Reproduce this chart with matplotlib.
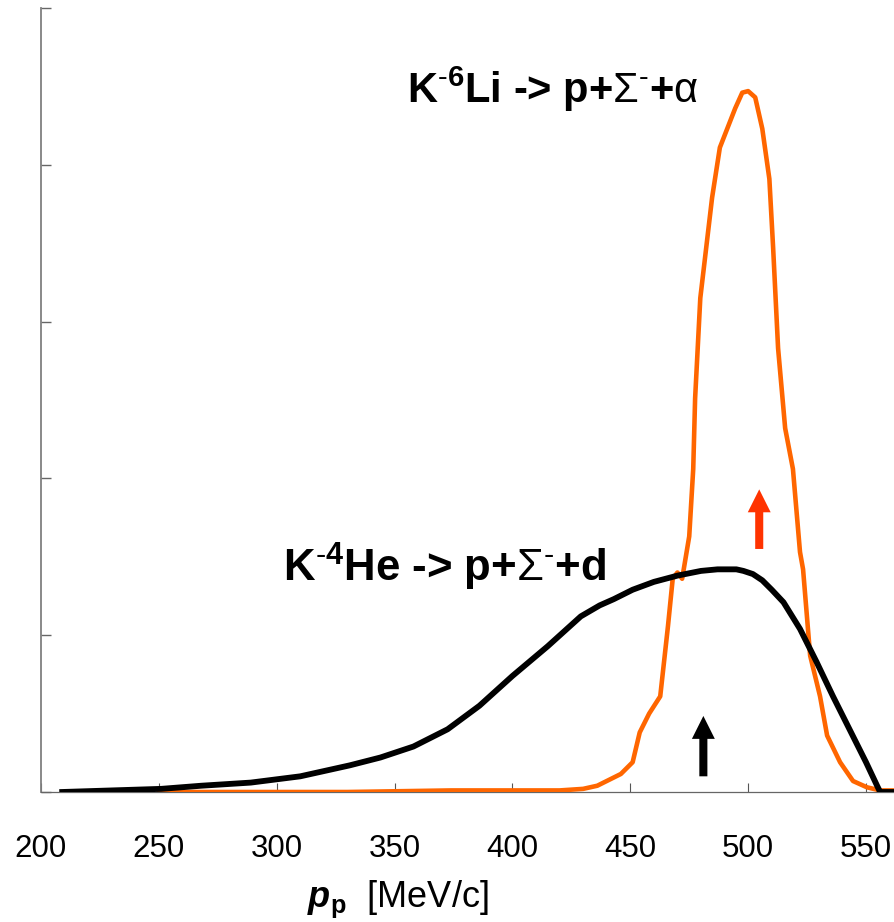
import matplotlib
matplotlib.use('Agg')
import matplotlib.pyplot as plt

plt.rcParams['font.family'] = ['Liberation Sans', 'DejaVu Sans']
plt.rcParams['mathtext.fontset'] = 'custom'
plt.rcParams['mathtext.rm'] = 'Liberation Sans'
plt.rcParams['mathtext.it'] = 'Liberation Sans:italic'
plt.rcParams['mathtext.bf'] = 'Liberation Sans:bold'
plt.rcParams['mathtext.bfit'] = 'Liberation Sans:italic:bold'

# K- 4He -> p + Sigma- + d  (black)
he_p = [209, 230, 251, 268, 289, 310, 331, 344, 358, 372.5, 386, 400, 415, 429, 437,
        443, 451, 460, 470, 480, 487, 495, 498, 502, 506, 510, 515, 522, 529, 536,
        543, 550, 554.7, 556, 562]
he_y = [0.0, 0.01, 0.02, 0.04, 0.06, 0.10, 0.17, 0.22, 0.29, 0.40, 0.55, 0.74, 0.93,
        1.12, 1.19, 1.23, 1.29, 1.34, 1.38, 1.41, 1.42, 1.42, 1.41, 1.39, 1.35, 1.29,
        1.21, 1.04, 0.83, 0.61, 0.40, 0.19, 0.04, 0.0, 0.0]

# K- 6Li -> p + Sigma- + alpha  (orange)
li_p = [250, 330, 374, 420, 430, 436, 446, 451, 454, 458, 462.7, 466, 468, 470, 472,
        475, 476.7, 477.5, 479.7, 484.7, 488, 494.5, 497.5, 500, 503, 506, 509, 510.6,
        512.7, 515.7, 519, 522, 523.3, 526.3, 530.5, 533.5, 539, 544.5, 550.4, 556, 562]
li_y = [0.0, 0.0, 0.01, 0.01, 0.02, 0.04, 0.115, 0.19, 0.38, 0.50, 0.61, 1.06, 1.36,
        1.40, 1.36, 1.63, 2.06, 2.51, 3.15, 3.79, 4.11, 4.36, 4.46, 4.47, 4.43, 4.23,
        3.91, 3.47, 2.83, 2.32, 2.06, 1.53, 1.42, 0.87, 0.61, 0.36, 0.19, 0.07, 0.03,
        0.01, 0.01]

x_ticks = [200, 250, 300, 350, 400, 450, 500, 550]
y_ticks = [0, 1, 2, 3, 4, 5]

fig = plt.figure(figsize=(8.95, 9.22), dpi=100)
ax = fig.add_axes([41 / 895, 1 - 792 / 922, 1 - 41 / 895, (792 - 8) / 922])

ax.plot(li_p, li_y, color='#FF6600', lw=3.3, zorder=3)
ax.plot(he_p, he_y, color='black', lw=4.2, zorder=4, solid_joinstyle='round')

ax.set_xlim(200, 562.3)
ax.set_ylim(0, 5)
ax.set_xticks(x_ticks)
ax.set_yticks(y_ticks)
ax.set_yticklabels([])
ax.tick_params(axis='x', direction='in', length=6.5, width=0.8, color='#555555',
               labelsize=22.5, pad=30)
ax.tick_params(axis='y', direction='in', length=7.5, width=1.0, color='#666666')
for s in ['top', 'right']:
    ax.spines[s].set_visible(False)
ax.spines['left'].set_color('#808080')
ax.spines['left'].set_linewidth(1.3)
ax.spines['bottom'].set_color('#666666')
ax.spines['bottom'].set_linewidth(0.9)

ax.text(355.3, 4.395,
        r'K$^{\mathbf{\text{-}6}}$Li -> p+$\mathrm{\Sigma}^{\text{-}}$+$\mathrm{\alpha}$',
        fontsize=30, fontweight='bold', ha='left', va='baseline')
ax.text(302.7, 1.344,
        r'K$^{\mathbf{\text{-}4}}$He -> p+$\mathrm{\Sigma}^{\text{-}}$+d',
        fontsize=31.5, fontweight='bold', ha='left', va='baseline')

# arrows
arr = dict(width=5.8, headwidth=16.5, headlength=16.5, shrink=0.0, lw=0)
ax.annotate('', xy=(504.7, 1.93), xytext=(504.7, 1.55),
            arrowprops=dict(arr, color='#FF3300'))
ax.annotate('', xy=(481, 0.485), xytext=(481, 0.10),
            arrowprops=dict(arr, color='black'))

fig.text(307 / 895, 1 - 907 / 922, r'$\mathbfit{p}_{\mathbf{p}}$  [MeV/c]',
         fontsize=26, ha='left', va='baseline')

fig.savefig('out.png', dpi=100)
